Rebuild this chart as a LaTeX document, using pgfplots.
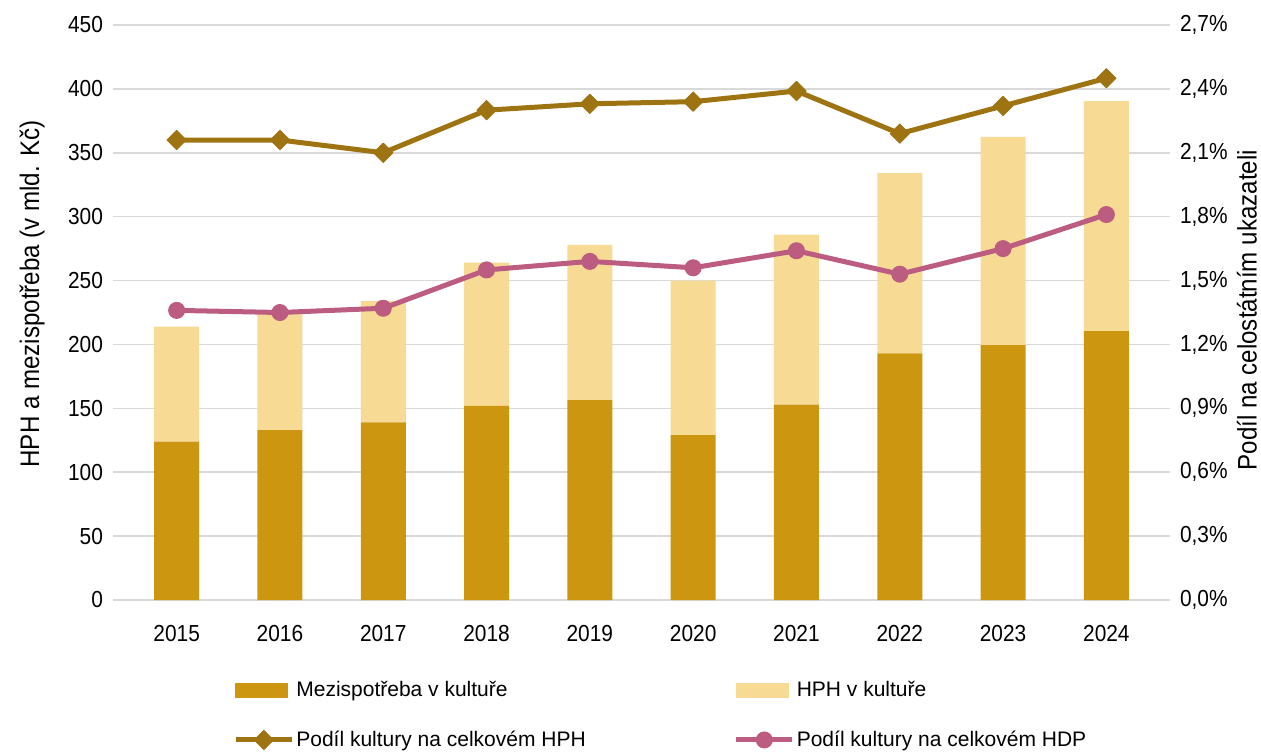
\documentclass[border=0pt]{standalone}
\usepackage{fontspec}
\setmainfont{Liberation Sans}
\newfontfamily\tickfont{Liberation Sans}[FakeStretch=0.9]
\usepackage{pgfplots}
\pgfplotsset{compat=1.18}
\definecolor{mezi}{HTML}{CC9611}
\definecolor{hph}{HTML}{F7DA94}
\definecolor{hphl}{HTML}{9E7412}
\definecolor{hdpl}{HTML}{BC5C80}
\definecolor{gridc}{HTML}{D9D9D9}
\pgfplotsset{
  linleg/.style={legend image code/.code={%
    \draw[mark repeat=2,mark phase=2,##1] plot coordinates {(0pt,0pt) (14pt,0pt) (28pt,0pt)};}},
  common/.style={
    at={(0,0)}, anchor=south west,
    scale only axis, width=516.5pt, height=287.5pt,
    xmin=2014.5, xmax=2024.5,
    axis line style={draw=none},
    tick align=outside, major tick length=6pt,
    tick style={color=gridc, line width=0.75pt},
    /pgf/number format/assume math mode=true,
    tick label style={font=\tickfont\fontsize{11.6}{13}\selectfont},
  }
}
\begin{document}
\begin{tikzpicture}
\useasboundingbox (-62.5pt,-75.5pt) rectangle (568pt,300pt);
\begin{axis}[common,
  ybar stacked, bar width=22.5pt,
  xtick={2015,2016,2017,2018,2019,2020,2021,2022,2023,2024},
  xticklabel style={/pgf/number format/1000 sep={}, yshift=-3pt},
  xtick style={draw=none},
  ymin=0, ymax=450, ytick={0,50,...,450}, ytick pos=left,
  yticklabel style={xshift=-1.5pt},
  ymajorgrids, grid style={color=gridc, line width=0.75pt},
  ylabel={HPH a mezispotřeba (v mld. Kč)},
  every axis y label/.style={at={(axis description cs:-0.090,0.532)}, rotate=90, anchor=center,
    font=\tickfont\fontsize{13.4}{15}\selectfont},
]
\addplot[fill=mezi, draw=none] coordinates {(2015,124) (2016,133) (2017,139) (2018,152) (2019,156.5)
  (2020,129) (2021,153) (2022,193) (2023,199.5) (2024,210.5)};
\addplot[fill=hph, draw=none] coordinates {(2015,90) (2016,91) (2017,95) (2018,112) (2019,121.5)
  (2020,121) (2021,133) (2022,141) (2023,163) (2024,180)};
\end{axis}
\begin{axis}[common,
  xtick=\empty,
  ymin=0, ymax=2.7, ytick={0,0.3,0.6,0.9,1.2,1.5,1.8,2.1,2.4,2.7}, ytick pos=right,
  yticklabel={\pgfmathprintnumber[fixed,fixed zerofill,precision=1,use comma]{\tick}\%},
  yticklabel style={xshift=1.5pt},
  ylabel={Podíl na celostátním ukazateli},
  every axis y label/.style={at={(axis description cs:1.086,0.504)}, rotate=90, anchor=center,
    font=\tickfont\fontsize{13.4}{15}\selectfont},
  legend columns=2, legend cell align=left,
  legend style={at={(0.1045,-0.134)}, anchor=north west, draw=none, fill=none, inner sep=0pt,
    row sep=11.5pt, font=\fontsize{10.5}{12.6}\selectfont, nodes={inner xsep=1pt},
    /tikz/every even column/.append style={column sep=73pt}},
]
\addlegendimage{legend image code/.code={\fill[mezi] (0pt,-3.5pt) rectangle (26pt,3.5pt);}}
\addlegendimage{legend image code/.code={\fill[hph] (0pt,-3.5pt) rectangle (26pt,3.5pt);}}
\addplot[linleg, color=hphl, line width=2.5pt, line join=round, mark=square*, mark size=3.4pt,
  mark options={rotate=45, solid, line width=0.5pt}] coordinates {(2015,2.16) (2016,2.16) (2017,2.10)
  (2018,2.30) (2019,2.33) (2020,2.34) (2021,2.39) (2022,2.19) (2023,2.32) (2024,2.45)};
\addplot[linleg, color=hdpl, line width=2.5pt, line join=round, mark=*, mark size=4pt,
  mark options={solid, line width=0.5pt}] coordinates {(2015,1.36) (2016,1.35) (2017,1.37)
  (2018,1.55) (2019,1.59) (2020,1.56) (2021,1.64) (2022,1.53) (2023,1.65) (2024,1.81)};
\legend{Mezispotřeba v kultuře, HPH v kultuře, Podíl kultury na celkovém HPH, Podíl kultury na celkovém HDP}
\end{axis}
\end{tikzpicture}
\end{document}
